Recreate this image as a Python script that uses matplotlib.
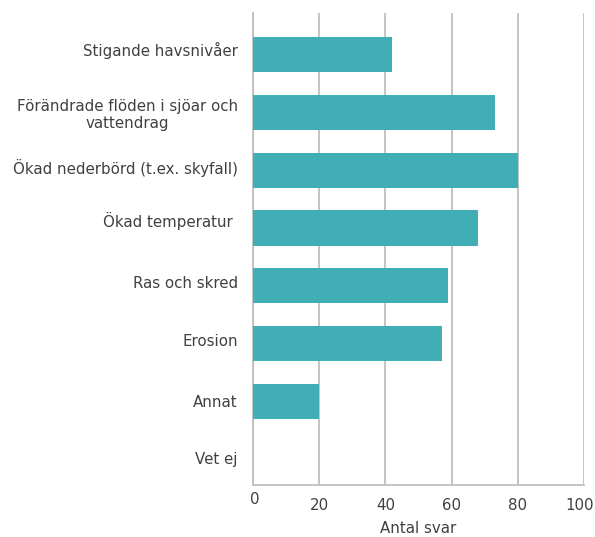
import matplotlib
matplotlib.use("Agg")
import matplotlib.pyplot as plt
import matplotlib.transforms as mtransforms

categories = ["Stigande havsnivåer",
              "Förändrade flöden i sjöar och\nvattendrag",
              "Ökad nederbörd (t.ex. skyfall)",
              "Ökad temperatur ",
              "Ras och skred",
              "Erosion",
              "Annat",
              "Vet ej"]
values = [42, 73, 80, 68, 59, 57, 20, 0]
xticks = [0, 20, 40, 60, 80, 100]

plt.rcParams['font.family'] = ['DejaVu Sans']

fig = plt.figure(figsize=(5.95, 5.37), dpi=100)
ax = fig.add_axes([253/595, 1-485/537, 331/595, 472/537])

ypos = list(range(len(categories)))
ax.barh(ypos, values, height=0.61, color="#41ADB5", zorder=3)
ax.set_ylim(7.45, -0.72)
ax.set_xlim(0, 100)
ax.set_xticks(xticks)
ax.set_xticklabels([str(t) for t in xticks])
ax.set_yticks(ypos)
ax.set_yticklabels(categories, ha='right', multialignment='center')
ax.tick_params(axis='both', length=0, labelsize=10.8, colors="#404040")
ax.tick_params(axis='y', pad=11)
ax.tick_params(axis='x', pad=9)
ax.grid(axis='x', color="#BFBFBF", linewidth=1.3, zorder=0)
for s in ['top', 'right']:
    ax.spines[s].set_visible(False)
for s in ['left', 'bottom']:
    ax.spines[s].set_color("#BFBFBF")
    ax.spines[s].set_linewidth(1.3)
ax.set_xlabel("Antal svar", fontsize=10.8, color="#404040", labelpad=6)

# small label position quirks seen in the reference (pixels)
ylab_shift = [6, 0, 4, 8, 4, 3, 0, 1]
for lab, dy in zip(ax.get_yticklabels(), ylab_shift):
    lab.set_transform(lab.get_transform() +
                      mtransforms.ScaledTranslation(0, dy/100, fig.dpi_scale_trans))

labels = ax.get_xticklabels()
labels[0].set_transform(labels[0].get_transform() +
                        mtransforms.ScaledTranslation(2/100, 6/100, fig.dpi_scale_trans))
labels[-1].set_transform(labels[-1].get_transform() +
                         mtransforms.ScaledTranslation(-4/100, 0, fig.dpi_scale_trans))

fig.savefig("out.png", dpi=100)
